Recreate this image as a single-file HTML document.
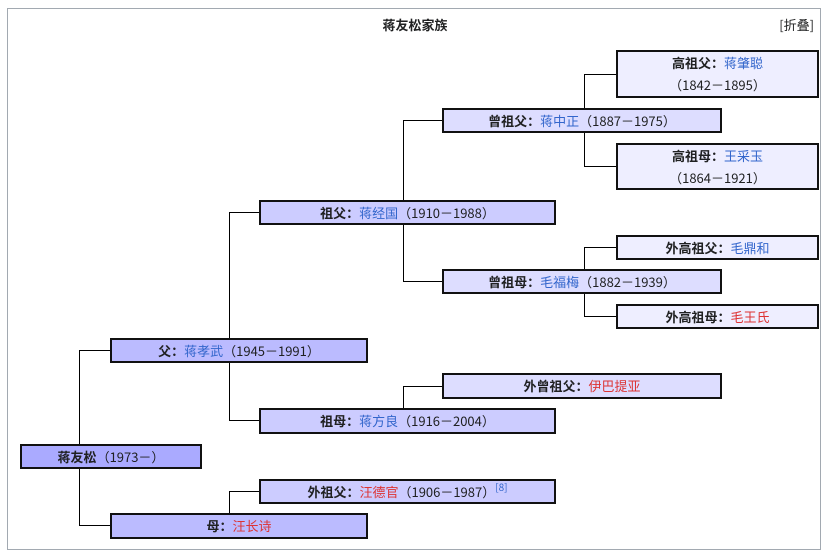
<!DOCTYPE html>
<html><head><meta charset="utf-8"><style>
body{margin:0;width:830px;height:560px;background:#fff;font-family:"Noto Sans CJK SC","Liberation Sans",sans-serif;font-size:13px;color:#202122;position:relative;overflow:hidden}
.frame{position:absolute;left:7px;top:8px;width:814px;height:542px;border:1px solid #a2a9b1;box-sizing:border-box}
.t{position:absolute;left:0;width:830px;top:15px;text-align:center;font-weight:bold;font-size:13px;line-height:20px}
.fold{position:absolute;right:16px;top:15px;font-size:13px;line-height:20px}
.b{position:absolute;border:2px solid #111;box-sizing:border-box;text-align:center;line-height:21px;white-space:nowrap}
.b b{font-weight:bold}
.bl{color:#3366cc}.rd{color:#d33}
.l{position:absolute;background:#000}
.c1{background:#aaaaff}.c2{background:#bbbbff}.c3{background:#ccccff}.c4{background:#ddddff}.c5{background:#eeeeff}
sup{font-size:10px;color:#3366cc;vertical-align:6px;line-height:0}
</style></head><body>
<div class="frame"></div>
<div class="t">蒋友松家族</div>
<div class="fold">[折叠]</div>

<div class="l" style="left:79px;top:350px;width:1px;height:94px"></div>
<div class="l" style="left:79px;top:468px;width:1px;height:58px"></div>
<div class="l" style="left:79px;top:350px;width:31px;height:1px"></div>
<div class="l" style="left:79px;top:525px;width:31px;height:1px"></div>

<div class="l" style="left:229px;top:212px;width:1px;height:126px"></div>
<div class="l" style="left:229px;top:363px;width:1px;height:58px"></div>
<div class="l" style="left:229px;top:212px;width:31px;height:1px"></div>
<div class="l" style="left:229px;top:420px;width:31px;height:1px"></div>
<div class="l" style="left:229px;top:491px;width:1px;height:22px"></div>
<div class="l" style="left:229px;top:491px;width:31px;height:1px"></div>

<div class="l" style="left:403px;top:120px;width:1px;height:80px"></div>
<div class="l" style="left:403px;top:224px;width:1px;height:58px"></div>
<div class="l" style="left:403px;top:120px;width:40px;height:1px"></div>
<div class="l" style="left:403px;top:281px;width:40px;height:1px"></div>
<div class="l" style="left:403px;top:386px;width:1px;height:22px"></div>
<div class="l" style="left:403px;top:386px;width:40px;height:1px"></div>

<div class="l" style="left:584px;top:74px;width:1px;height:34px"></div>
<div class="l" style="left:584px;top:132px;width:1px;height:35px"></div>
<div class="l" style="left:584px;top:74px;width:33px;height:1px"></div>
<div class="l" style="left:584px;top:166px;width:33px;height:1px"></div>
<div class="l" style="left:584px;top:247px;width:1px;height:22px"></div>
<div class="l" style="left:584px;top:293px;width:1px;height:24px"></div>
<div class="l" style="left:584px;top:247px;width:33px;height:1px"></div>
<div class="l" style="left:584px;top:316px;width:33px;height:1px"></div>

<div class="b c1" style="left:20px;top:444px;width:182px;height:25px"><b>蒋友松</b>（1973－）</div>
<div class="b c2" style="left:110px;top:338px;width:258px;height:25px"><b>父：</b><span class="bl">蒋孝武</span>（1945－1991）</div>
<div class="b c2" style="left:110px;top:513px;width:258px;height:26px"><b>母：</b><span class="rd">汪长诗</span></div>
<div class="b c3" style="left:259px;top:200px;width:297px;height:25px"><b>祖父：</b><span class="bl">蒋经国</span>（1910－1988）</div>
<div class="b c3" style="left:259px;top:408px;width:297px;height:26px"><b>祖母：</b><span class="bl">蒋方良</span>（1916－2004）</div>
<div class="b c3" style="left:259px;top:479px;width:297px;height:25px"><b>外祖父：</b><span class="rd">汪德官</span>（1906－1987）<sup>[8]</sup></div>
<div class="b c4" style="left:442px;top:108px;width:280px;height:25px"><b>曾祖父：</b><span class="bl">蒋中正</span>（1887－1975）</div>
<div class="b c4" style="left:442px;top:269px;width:280px;height:25px"><b>曾祖母：</b><span class="bl">毛福梅</span>（1882－1939）</div>
<div class="b c4" style="left:442px;top:373px;width:280px;height:26px"><b>外曾祖父：</b><span class="rd">伊巴提亚</span></div>
<div class="b c5" style="left:616px;top:50px;width:203px;height:48px;line-height:22px"><b>高祖父：</b><span class="bl">蒋肇聪</span><br>（1842－1895）</div>
<div class="b c5" style="left:616px;top:143px;width:203px;height:47px;line-height:22px"><b>高祖母：</b><span class="bl">王采玉</span><br>（1864－1921）</div>
<div class="b c5" style="left:616px;top:235px;width:203px;height:25px"><b>外高祖父：</b><span class="bl">毛鼎和</span></div>
<div class="b c5" style="left:616px;top:304px;width:203px;height:25px"><b>外高祖母：</b><span class="rd">毛王氏</span></div>
</body></html>
